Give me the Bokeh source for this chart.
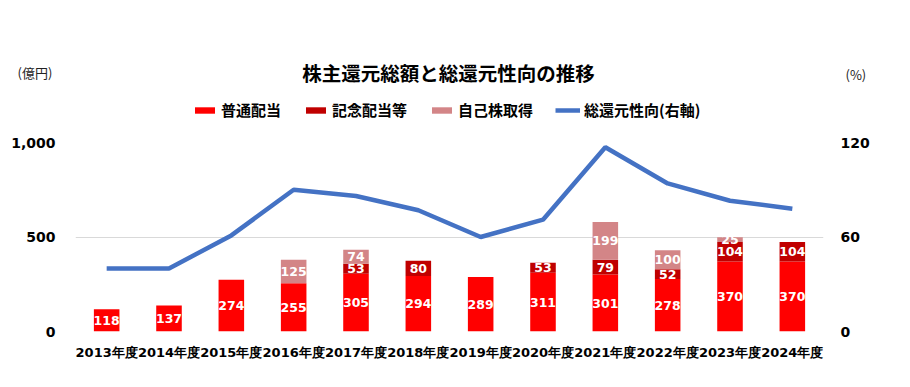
from bokeh.plotting import figure
from bokeh.layouts import column
from bokeh.models import (Range1d, LinearAxis, FactorRange, NumeralTickFormatter, FixedTicker,
                          Legend, LegendItem, Label, ColumnDataSource)
from bokeh.core.properties import value
from bokeh.embed import file_html
from bokeh.resources import INLINE

years = ["2013年度", "2014年度", "2015年度", "2016年度", "2017年度", "2018年度",
         "2019年度", "2020年度", "2021年度", "2022年度", "2023年度", "2024年度"]
regular = [118, 137, 274, 255, 305, 294, 289, 311, 301, 278, 370, 370]
commem = [0, 0, 0, 0, 53, 80, 0, 53, 79, 52, 104, 104]
buyback = [0, 0, 0, 125, 74, 0, 0, 0, 199, 100, 25, 0]
payout = [40, 40, 61, 90, 86, 77, 60, 71, 117, 94, 83, 78]
series_names = ["普通配当", "記念配当等", "自己株取得"]
line_name = "総還元性向(右軸)"
title_text = "株主還元総額と総還元性向の推移"
left_unit = "(億円)"
right_unit = "(%)"
left_ticks = [0, 500, 1000]
right_ticks = [0, 60, 120]
colors = ["#FF0000", "#C00000", "#D38587"]
line_color = "#4472C4"

NUM_FONT = "DejaVu Sans"
JP_FONT = "Noto Sans CJK JP"
W = 894
HEAD_H = 132

# ---------- header (title, units, legend) ----------
hdr = figure(width=W, height=HEAD_H, x_range=Range1d(0, W), y_range=Range1d(HEAD_H, 0),
             x_axis_type=None, y_axis_type=None, output_backend="svg", toolbar_location=None,
             min_border=0, min_border_left=0, min_border_right=0, min_border_top=0, min_border_bottom=0)
hdr.frame_align = False
hdr.outline_line_color = None
hdr.grid.visible = False

hdr.add_layout(Label(x=448, y=72, text=title_text, text_font=JP_FONT, text_font_style="bold",
                     text_font_size="19.5px", text_align="center", text_baseline="middle",
                     text_color="black"))
hdr.add_layout(Label(x=17, y=72, text=left_unit, text_font=JP_FONT, text_font_size="13px",
                     text_align="left", text_baseline="middle", text_color="#222222"))
hdr.add_layout(Label(x=845, y=74, text=right_unit, text_font=JP_FONT, text_font_size="13px",
                     text_align="left", text_baseline="middle", text_color="#222222"))

# legend-only swatch renderers (their single point lies outside the visible range)
off = [-1000]
swatches = [hdr.vbar(x=off, top=off, width=1, color=c, line_color=None) for c in colors]
swline = hdr.line(x=off, y=off, line_color=line_color, line_width=4.5)
items = [LegendItem(label=series_names[i], renderers=[swatches[i]]) for i in range(3)]
items.append(LegendItem(label=line_name, renderers=[swline]))
leg = Legend(items=items, orientation="horizontal", location=(192, 12),
             glyph_width=25, glyph_height=8, label_height=18, label_standoff=4, spacing=22,
             padding=0, margin=0, border_line_color=None, background_fill_alpha=0,
             label_text_font=JP_FONT, label_text_font_style="bold", label_text_font_size="15px",
             label_text_baseline="middle", label_text_color="black")
hdr.add_layout(leg, "center")

# ---------- main chart ----------
p = figure(x_range=FactorRange(factors=years), y_range=Range1d(0, 1000),
           width=W, height=371 - HEAD_H, output_backend="svg", toolbar_location=None,
           min_border_left=75, min_border_right=71, min_border_top=10, min_border_bottom=40)
p.frame_align = False
p.outline_line_color = None

src = ColumnDataSource(dict(x=years, regular=regular, commem=commem, buyback=buyback, payout=payout))
bars = p.vbar_stack(["regular", "commem", "buyback"], x="x", width=0.41, color=colors,
                    line_color=None, source=src)

p.extra_y_ranges = {"pct": Range1d(0, 120)}
p.line(x="x", y="payout", source=src, line_color=line_color, line_width=4.5, y_range_name="pct")

lx, ly, lt = [], [], []
for i, yr in enumerate(years):
    base = 0
    for vals in (regular, commem, buyback):
        v = vals[i]
        if v > 0:
            lx.append(yr)
            ly.append(base + v / 2)
            lt.append(str(v))
        base += v
p.text(x=lx, y=ly, text=lt, text_color="white", text_font=value(NUM_FONT),
       text_font_style="bold", text_font_size="12.5px", text_align="center",
       text_baseline="middle")

def style_axis(ax, size):
    ax.axis_line_color = None
    ax.major_tick_line_color = None
    ax.minor_tick_line_color = None
    ax.major_tick_out = 0
    ax.major_tick_in = 0
    ax.minor_tick_out = 0
    ax.major_label_text_font = NUM_FONT
    ax.major_label_text_font_style = "bold"
    ax.major_label_text_font_size = size
    ax.major_label_text_color = "black"

p.yaxis.ticker = FixedTicker(ticks=left_ticks)
p.yaxis.formatter = NumeralTickFormatter(format="0,0")
style_axis(p.yaxis[0], "14px")
p.yaxis.major_label_standoff = 20
style_axis(p.xaxis[0], "13px")
p.xaxis.major_label_standoff = 13

rax = LinearAxis(y_range_name="pct", ticker=FixedTicker(ticks=right_ticks))
style_axis(rax, "14px")
rax.major_label_standoff = 17
p.add_layout(rax, "right")

p.xgrid.grid_line_color = None
p.ygrid.grid_line_color = "#D9D9D9"
p.ygrid.grid_line_width = 1
p.ygrid.ticker = FixedTicker(ticks=left_ticks)

layout = column(hdr, p, spacing=0)
open("out.html", "w").write(file_html(layout, INLINE))
